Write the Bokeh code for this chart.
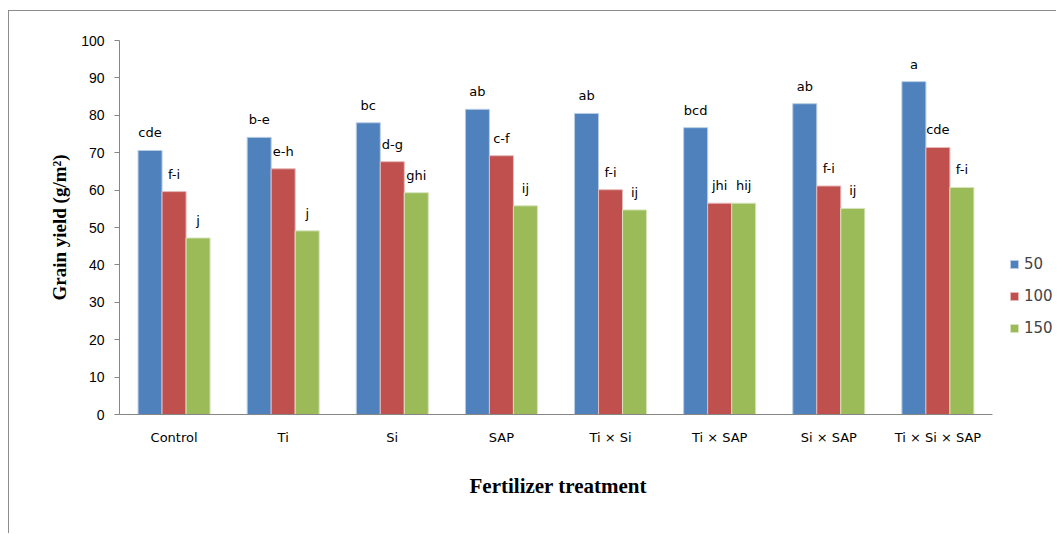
from bokeh.plotting import figure
from bokeh.models import (ColumnDataSource, Range1d, Legend, LegendItem, SingleIntervalTicker,
                          FixedTicker, Title)
from bokeh.transform import dodge
from bokeh.core.properties import value
from bokeh.embed import file_html
from bokeh.resources import INLINE

categories = ["Control", "Ti", "Si", "SAP", "Ti × Si", "Ti × SAP", "Si × SAP", "Ti × Si × SAP"]
rates = ["50", "100", "150"]
yield_50 = [70.6, 74.1, 78.0, 81.6, 80.5, 76.7, 83.1, 89.0]
yield_100 = [59.6, 65.7, 67.6, 69.2, 60.1, 56.5, 61.1, 71.4]
yield_150 = [47.2, 49.1, 59.3, 55.8, 54.7, 56.5, 55.1, 60.7]
letters_50 = ["cde", "b-e", "bc", "ab", "ab", "bcd", "ab", "a"]
letters_100 = ["f-i", "e-h", "d-g", "c-f", "f-i", "jhi", "f-i", "cde"]
letters_150 = ["j", "j", "ghi", "ij", "ij", "hij", "ij", "f-i"]

colors = ["#4F81BD", "#C0504D", "#9BBB59"]
edge = ["#B9CDE5", "#E6B9B8", "#D7E4BD"]

# category slots: each category occupies one unit on the x scale
pos = [i + 0.5 for i in range(len(categories))]

src = ColumnDataSource(dict(pos=pos, cat=categories, y50=yield_50, y100=yield_100, y150=yield_150,
                            l50=letters_50, l100=letters_100, l150=letters_150))

n = len(categories)
p = figure(x_range=Range1d(0, n * 1.0745), y_range=Range1d(0, 100),
           width=1048, height=523, output_backend="svg", toolbar_location=None,
           min_border_left=110, min_border_right=0, min_border_top=29, min_border_bottom=120)
p.styles = {"margin-left": "8px", "margin-top": "10px",
            "border-left": "1px solid #8c8c8c", "border-top": "1px solid #8c8c8c"}

offsets = [-0.22, 0.0, 0.22]
cols = ["y50", "y100", "y150"]
lcols = ["l50", "l100", "l150"]
renderers = []
for off, c, lc, col, ec in zip(offsets, cols, lcols, colors, edge):
    r = p.vbar(x=dodge("pos", off), top=c, width=0.22, bottom=0, source=src,
               fill_color=col, line_color=ec, line_width=1)
    renderers.append(r)
    p.text(x=dodge("pos", off), y=c, text=lc, source=src,
           text_align="center", text_baseline="bottom", y_offset=-10,
           text_font=value("DejaVu Sans"), text_font_size="13px", text_color="#000000")

legend = Legend(items=[LegendItem(label=lab, renderers=[r]) for lab, r in zip(rates, renderers)],
                location=(890, 76), padding=0, margin=0, border_line_color=None,
                background_fill_alpha=0, glyph_width=10, glyph_height=10, label_height=20,
                spacing=12, label_standoff=5,
                label_text_font="DejaVu Sans", label_text_font_size="15px")
p.add_layout(legend, "center")

p.xgrid.grid_line_color = None
p.ygrid.grid_line_color = None
p.outline_line_color = None

p.yaxis.ticker = SingleIntervalTicker(interval=10)
p.yaxis.minor_tick_line_color = None
p.yaxis.major_tick_in = 0
p.yaxis.major_tick_out = 5
p.yaxis.major_label_standoff = 10
p.yaxis.axis_line_color = "#868686"
p.yaxis.major_tick_line_color = "#868686"
p.yaxis.major_label_text_font = "Liberation Sans"
p.yaxis.major_label_text_font_size = "14px"
p.yaxis.major_label_text_color = "#000000"
p.yaxis.axis_label = "Grain yield (g/m²)"
p.yaxis.axis_label_text_font = "Liberation Serif"
p.yaxis.axis_label_text_font_style = "bold"
p.yaxis.axis_label_text_font_size = "19px"
p.yaxis.axis_label_standoff = 8
p.yaxis.axis_label_text_color = "#000000"

p.xaxis.ticker = FixedTicker(ticks=pos)
p.xaxis.major_label_overrides = {x: c for x, c in zip(pos, categories)}
p.xaxis.bounds = (0, n)
p.xaxis.major_tick_line_color = None
p.xaxis.minor_tick_line_color = None
p.xaxis.major_tick_out = 0
p.xaxis.major_label_standoff = 15
p.xaxis.axis_line_color = "#868686"
p.xaxis.major_label_text_font = "DejaVu Sans"
p.xaxis.major_label_text_font_size = "13px"
p.xaxis.major_label_text_color = "#000000"

xtitle = Title(text="Fertilizer treatment", align="left", offset=350, standoff=48,
               text_font="Liberation Serif", text_font_style="bold", text_font_size="21px",
               text_color="#000000")
p.add_layout(xtitle, "below")

open("out.html", "w").write(file_html(p, INLINE))
